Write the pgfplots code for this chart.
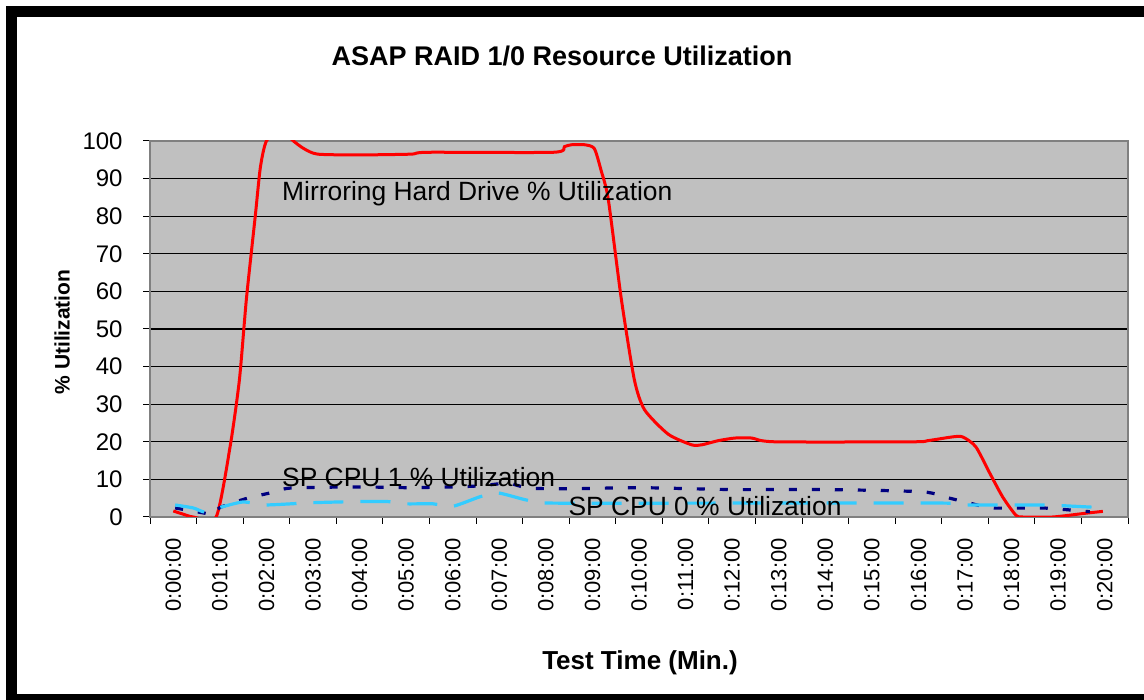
\documentclass[border=0pt]{standalone}
\usepackage{fontspec}
\setmainfont{Liberation Sans}
\usepackage{pgfplots}
\pgfplotsset{compat=1.18}
\definecolor{plotgray}{HTML}{C0C0C0}
\definecolor{bordergray}{HTML}{808080}
\definecolor{cpublue}{HTML}{33CCFF}
\definecolor{navyblue}{HTML}{000080}
\definecolor{hdred}{HTML}{FF0000}
\begin{document}
\begin{tikzpicture}
\path[use as bounding box] (0pt,0pt) rectangle (572pt,350pt);
\fill[white] (0pt,0pt) rectangle (572pt,350pt);
\fill[black] (3pt,0pt) rectangle (572pt,347pt);
\fill[white] (8.5pt,3pt) rectangle (572pt,341.5pt);
\begin{axis}[
  at={(75pt,91.5pt)}, anchor=south west,
  scale only axis, width=489pt, height=188pt,
  xmin=-0.5, xmax=20.5, ymin=0, ymax=100,
  xtick={0,...,20},
  xticklabels={0:00:00,0:01:00,0:02:00,0:03:00,0:04:00,0:05:00,0:06:00,0:07:00,0:08:00,0:09:00,0:10:00,0:11:00,0:12:00,0:13:00,0:14:00,0:15:00,0:16:00,0:17:00,0:18:00,0:19:00,0:20:00},
  minor xtick={-0.5,0.5,...,20.5},
  ytick={0,10,...,100},
  /pgf/number format/assume math mode=true,
  tick align=outside,
  major tick length=3.5pt, minor tick length=3.5pt,
  every major x tick/.append style={draw=none},
  every minor x tick/.append style={black, line width=0.5pt},
  every major y tick/.append style={black, line width=0.5pt},
  xtick pos=bottom, ytick pos=left,
  ymajorgrids, major grid style={black, line width=0.6pt},
  axis background/.style={fill=plotgray},
  axis line style={bordergray, line width=0.8pt},
  xticklabel style={rotate=90, anchor=east, inner sep=0pt, font=\fontsize{11}{13}\selectfont},
  xticklabel shift=7pt,
  yticklabel style={anchor=east, inner sep=0pt, font=\fontsize{12}{14}\selectfont},
  yticklabel shift=10pt,
  clip=true,
]
\addplot[hdred, line width=1.5pt, smooth, tension=0.4] coordinates {
(0.0,1.6) (0.2,0.8) (0.43,0) (0.92,0) (1.22,18.7) (1.42,36.5) (1.57,58) (1.76,80) (1.87,93) (2.0,100) (2.3,103) (2.58,100) (2.8,98) (3.1,96.5) (4.0,96.3) (5.1,96.5) (5.47,97) (8.16,97) (8.4,98.5) (8.55,99) (8.83,99) (9.04,98) (9.19,92) (9.34,84.5) (9.62,58) (9.9,36.5) (10.12,28.5) (10.63,22) (11.13,19.2) (11.35,19.2) (11.7,20.3) (12.06,21) (12.42,21) (12.92,20) (15.87,20) (16.2,20.3) (16.73,21.3) (16.95,21.3) (17.23,18.7) (17.53,11.7) (17.81,5.3) (18.09,0.5) (18.24,0) (18.88,0) (19.59,1) (19.96,1.5)
};
\addplot[navyblue, line width=1.6pt, dash pattern=on 4pt off 7.5pt, smooth, tension=0.4] coordinates {
(0.04,2.4) (0.68,1.0) (0.85,0.6) (1.0,2.5) (1.59,5) (2.08,6.4) (2.52,7.7) (4,8) (5,7.8) (6.0,8) (6.61,8.3) (7.19,9) (7.62,7.7) (8.5,7.5) (10,7.8) (12,7.3) (14,7.3) (16.08,6.7) (16.67,5) (17.10,3.7) (17.59,2.4) (18.67,2.4) (19.68,1.4)
};
\addplot[cpublue, line width=1.6pt, dash pattern=on 15pt off 8.5pt, smooth, tension=0.4] coordinates {
(0.04,3.2) (0.43,2.4) (0.68,1.3) (0.96,2.4) (1.50,4.0) (1.97,3.2) (2.98,3.8) (3.97,4.1) (4.61,4.1) (4.98,3.5) (5.58,3.5) (5.99,2.8) (6.59,5.4) (6.97,6.4) (7.59,4.5) (8.12,3.7) (12,3.7) (16.51,3.7) (17.10,3.2) (18.67,3.2) (19.59,2.7) (19.9,2.5)
};
\node[anchor=base west, inner sep=0pt, font=\fontsize{13.2}{15}\selectfont] at (axis cs:2.33,84.3) {Mirroring Hard Drive \% Utilization};
\node[anchor=base west, inner sep=0pt, font=\fontsize{13.2}{15}\selectfont] at (axis cs:2.33,8.0) {SP CPU 1 \% Utilization};
\node[anchor=base west, inner sep=0pt, font=\fontsize{13.2}{15}\selectfont] at (axis cs:8.48,0.4) {SP CPU 0 \% Utilization};
\end{axis}
\node[anchor=base, inner sep=0pt, font=\bfseries\fontsize{13.5}{16}\selectfont] at (281pt,317pt) {ASAP RAID 1/0 Resource Utilization};
\node[rotate=90, anchor=center, inner sep=0pt, font=\bfseries\fontsize{10.5}{12}\selectfont] at (31pt,184pt) {\% Utilization};
\node[anchor=base, inner sep=0pt, font=\bfseries\fontsize{13}{15}\selectfont] at (320pt,15pt) {Test Time (Min.)};
\end{tikzpicture}
\end{document}
